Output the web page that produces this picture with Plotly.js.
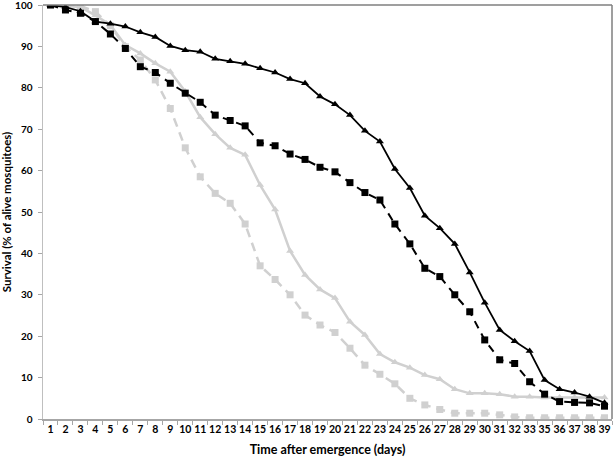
<!DOCTYPE html>
<html>
<head>
<meta charset="utf-8">
<script src="https://cdn.plot.ly/plotly-3.0.1.min.js"></script>
<style>html,body{margin:0;padding:0;background:#fff;}#chart{width:614px;height:459px;}</style>
</head>
<body>
<div id="chart"></div>
<script>
const days = ['1','2','3','4','5','6','7','8','9','10','11','12','13','14','15','16','17','18','19','20','21','22','23','24','25','26','27','28','29','30','31','32','33','35','36','37','38','39'];
const yTicks = [0, 10, 20, 30, 40, 50, 60, 70, 80, 90, 100];

const blackTriangle = [100, 99.5, 98.5, 96, 95.5, 94.8, 93.4, 92.3, 90.1, 89.1, 88.7, 87.0, 86.4, 85.8, 84.7, 83.7, 82.1, 81.1, 77.9, 76.0, 73.4, 69.6, 67.0, 60.4, 55.8, 49.1, 46.1, 42.3, 35.4, 28.1, 21.5, 18.8, 16.4, 9.4, 7.2, 6.4, 5.4, 3.9];
const blackSquare = [100, 98.8, 98.0, 96, 93, 89.5, 85.1, 83.7, 81.1, 78.7, 76.5, 73.4, 72.1, 70.8, 66.7, 66.0, 64.0, 62.7, 60.8, 59.7, 57.1, 54.7, 52.9, 47.1, 42.3, 36.4, 34.4, 30.0, 25.9, 19.1, 14.3, 13.4, 9.0, 6.0, 4.2, 4.0, 3.9, 3.1];
const grayTriangle = [100, 99.8, 99.5, 97.5, 95.2, 90.3, 88.3, 85.9, 83.9, 79.1, 72.9, 68.8, 65.5, 63.8, 56.5, 50.6, 40.6, 34.8, 31.3, 29.2, 23.5, 20.3, 15.7, 13.7, 12.4, 10.6, 9.6, 7.2, 6.2, 6.2, 6.0, 5.4, 5.4, 5.2, 5.2, 5.2, 5.2, 5.2];
const graySquare = [100, 99.8, 99.8, 98.4, 95.0, 89.9, 86.7, 81.9, 75.0, 65.5, 58.5, 54.5, 52.1, 47.1, 37.0, 33.7, 30.0, 25.1, 22.7, 20.9, 17.1, 13.0, 10.8, 8.5, 5.0, 3.4, 2.3, 1.4, 1.4, 1.4, 1.0, 0.5, 0.3, 0.3, 0.3, 0.3, 0.3, 0.3];

const GRAY = '#d0d0d0';
const traces = [
  {x: days, y: graySquare, type: 'scatter', mode: 'lines+markers',
   line: {color: GRAY, width: 2.5, dash: '9px,6px'},
   marker: {symbol: 'square', size: 7, color: GRAY}},
  {x: days, y: grayTriangle, type: 'scatter', mode: 'lines+markers',
   line: {color: GRAY, width: 2.5},
   marker: {symbol: 'triangle-up', size: 7, color: GRAY}},
  {x: days, y: blackSquare, type: 'scatter', mode: 'lines+markers',
   line: {color: '#000', width: 2, dash: '8px,6px'},
   marker: {symbol: 'square', size: 7, color: '#000'}},
  {x: days, y: blackTriangle, type: 'scatter', mode: 'lines+markers',
   line: {color: '#000', width: 1.8},
   marker: {symbol: 'triangle-up', size: 7, color: '#000'}}
];

const layout = {
  width: 614, height: 459,
  margin: {l: 43, r: 2, t: 5, b: 40},
  paper_bgcolor: '#fff', plot_bgcolor: '#fff',
  showlegend: false,
  font: {family: 'Lato, "Open Sans", sans-serif', color: '#000'},
  xaxis: {
    type: 'category', range: [-0.5, 37.5],
    showgrid: false, zeroline: false,
    showline: true, linecolor: '#a6a6a6', linewidth: 1.5,
    ticks: 'outside', tickson: 'boundaries', ticklen: 4, tickcolor: '#a6a6a6',
    tickangle: 0, ticklabeloverflow: 'allow',
    tickfont: {size: 10.5, weight: 'bold', family: 'Lato'},
    title: {text: 'Time after emergence (days)', font: {size: 12.5, weight: 'bold', family: 'Lato'}, standoff: 11}
  },
  yaxis: {
    range: [0, 100], tickmode: 'array', tickvals: yTicks, ticktext: yTicks.map(String),
    ticklabeloverflow: 'allow', ticklabelstandoff: 3,
    showgrid: false, zeroline: false,
    showline: true, linecolor: '#bfbfbf', linewidth: 1.5,
    ticks: 'outside', ticklen: 4, tickcolor: '#a6a6a6',
    tickfont: {size: 10, weight: 'bold', family: 'Lato'},
    title: {text: 'Survival (% of alive mosquitoes)', font: {size: 11.5, weight: 'bold', family: 'Lato'}, standoff: 7}
  },
  shapes: [
    {type: 'line', xref: 'paper', yref: 'paper', x0: 0, x1: 1, y0: 1, y1: 1, line: {color: '#7f7f7f', width: 1.5}},
    {type: 'line', xref: 'paper', yref: 'paper', x0: 1, x1: 1, y0: 0, y1: 1, line: {color: '#7f7f7f', width: 1.5}}
  ]
};

Plotly.newPlot('chart', traces, layout, {displayModeBar: false, staticPlot: true});
</script>
</body>
</html>
